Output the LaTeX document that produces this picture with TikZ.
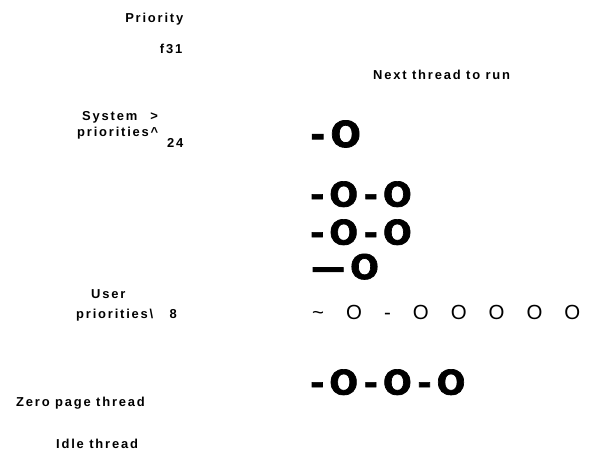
\documentclass[tikz,border=0pt]{standalone}
\usepackage{fontspec}
\setmainfont{Liberation Sans}
\newfontfamily\lblfont[LetterSpace=14]{Liberation Sans}
\newfontfamily\bigfont[LetterSpace=15, BoldFeatures={FakeBold=2}]{DejaVu Sans}
\newfontfamily\rowfont[LetterSpace=80]{Liberation Sans}
\tikzset{
  lbl/.style={inner sep=0pt, font={\lblfont\bfseries\fontsize{13}{15}\selectfont}},
  big/.style={inner sep=0pt, anchor=base west, font={\bigfont\bfseries\fontsize{34}{40}\selectfont}},
  reg/.style={inner sep=0pt, anchor=base west, font={\rowfont\fontsize{20.5}{24}\selectfont}}
}
\begin{document}
\begin{tikzpicture}[x=1bp,y=-1bp]
\useasboundingbox (0,0) rectangle (592,452);
% left labels
\node[lbl, anchor=base east] (prio) at (183.5,22.5) {Priority};
\node[lbl, anchor=base east] (f31) at (182.5,54) {f31};
\node[lbl, anchor=base west] (sys) at (82,120.5) {System\ \ \,>};
\node[lbl, anchor=base west] (sysp) at (77,136.5) {priorities\textasciicircum};
\node[lbl, anchor=base east] (p24) at (183.5,147.3) {24};
\node[lbl, anchor=base west] (user) at (91,298) {User};
\node[lbl, anchor=base west] (userp) at (76,318) {priorities\textbackslash\ \ \ 8};
\node[lbl, anchor=base west] (zero) at (16,406) {Zero page thread};
\node[lbl, anchor=base west] (idle) at (56,448) {Idle thread};
\node[lbl, anchor=base west] (next) at (373,80) {Next thread to run};
% queues
\node[big, font={\bigfont\bfseries\fontsize{36}{40}\selectfont}] (q31) at (310,147) {-O};
\node[big] (q1) at (310,206.5) {-O-O};
\node[big] (q2) at (310,244.5) {-O-O};
\node[big] (q3) at (311,279) {—O};
\node[reg] (q4) at (312,319) {\~{} O - O O O O O};
\node[big] (q5) at (310,394.5) {-O-O-O};
\end{tikzpicture}
\end{document}
